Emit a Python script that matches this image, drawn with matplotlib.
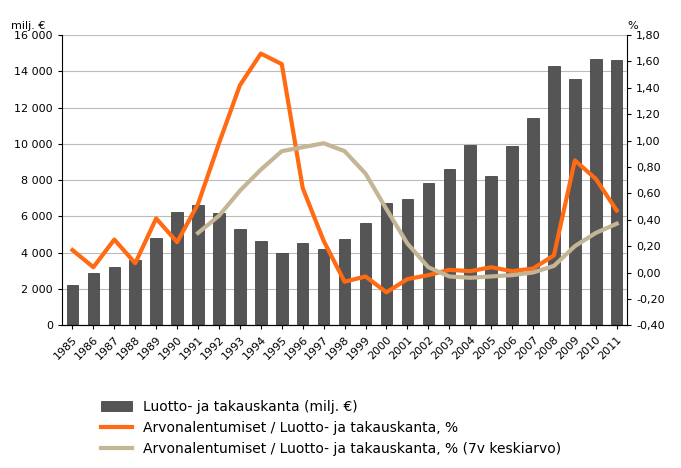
import numpy as np
import matplotlib.pyplot as plt
import matplotlib.ticker as ticker

years = list(range(1985, 2012))
stock = [2200, 2900, 3200, 3600, 4800, 6250, 6650, 6200, 5300, 4650, 4000, 4550, 4200, 4750,
         5650, 6750, 6950, 7850, 8600, 9950, 8250, 9900, 11450, 14300, 13600, 14700, 14600]
ratio = [0.17, 0.04, 0.25, 0.07, 0.41, 0.23, 0.52, 0.98, 1.42, 1.66, 1.58, 0.64, 0.24, -0.07,
         -0.03, -0.15, -0.05, -0.02, 0.02, 0.01, 0.04, 0.01, 0.03, 0.13, 0.85, 0.71, 0.47]
avg_years = list(range(1991, 2012))
ratio_avg = [0.30, 0.43, 0.62, 0.78, 0.92, 0.95, 0.98, 0.92, 0.75, 0.48, 0.22, 0.04, -0.03,
             -0.04, -0.03, -0.02, 0.00, 0.05, 0.20, 0.30, 0.37]

fig = plt.figure(figsize=(6.81, 4.68), dpi=100)
ax = fig.add_axes([0.091, 0.305, 0.83, 0.62])
x = np.arange(len(years))
bars = ax.bar(x, stock, width=0.55, color='#555555', edgecolor='#333333', linewidth=0.5,
              label='Luotto- ja takauskanta (milj. €)')
ax.set_ylim(0, 16000)
ax.set_yticks(range(0, 16001, 2000))
ax.yaxis.set_major_formatter(ticker.FuncFormatter(lambda v, p: f'{int(v):,}'.replace(',', ' ')))
ax.set_xlim(-0.5, len(years) - 0.5)
ax.set_xticks(x)
ax.set_xticklabels([str(y) for y in years], rotation=45, ha='right', rotation_mode='anchor')
ax.grid(axis='y', color='#bbbbbb', linewidth=0.8)
ax.set_axisbelow(True)
ax.tick_params(labelsize=8, length=3)
for s in ['top', 'right']:
    ax.spines[s].set_visible(False)
ax.text(-0.09, 1.02, 'milj. €', transform=ax.transAxes, fontsize=8)

ax2 = ax.twinx()
l1, = ax2.plot(x, ratio, color='#ff6a13', linewidth=3,
               label='Arvonalentumiset / Luotto- ja takauskanta, %')
l2, = ax2.plot(x[6:], ratio_avg, color='#c4b596', linewidth=3,
               label='Arvonalentumiset / Luotto- ja takauskanta, % (7v keskiarvo)')
ax2.set_ylim(-0.4, 1.8)
ax2.set_yticks(np.arange(-0.4, 1.81, 0.2))
ax2.yaxis.set_major_formatter(ticker.FuncFormatter(lambda v, p: f'{v:.2f}'.replace('.', ',')))
ax2.tick_params(labelsize=8, length=3)
for s in ['top', 'left']:
    ax2.spines[s].set_visible(False)
ax2.text(1.0, 1.02, '%', transform=ax2.transAxes, fontsize=8)

fig.legend(handles=[bars, l1, l2], loc='lower left', bbox_to_anchor=(0.13, 0.0),
           frameon=False, fontsize=10, handlelength=2.2)
fig.savefig('out.png')
